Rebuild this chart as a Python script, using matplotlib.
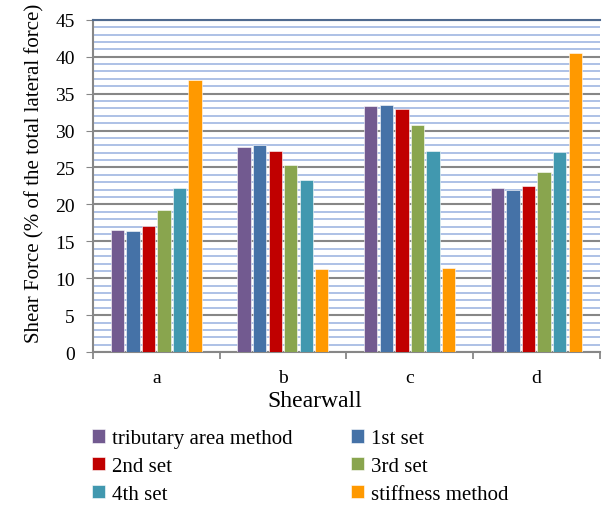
import numpy as np
import matplotlib.pyplot as plt
from matplotlib.ticker import MultipleLocator

plt.rcParams['font.family'] = ['Liberation Serif', 'DejaVu Serif']

walls = ['a', 'b', 'c', 'd']
series = ['tributary area method', '1st set', '2nd set', '3rd set', '4th set', 'stiffness method']
tributary = [16.6, 27.8, 33.3, 22.2]
set1 = [16.4, 28.0, 33.5, 22.0]
set2 = [17.1, 27.3, 32.9, 22.5]
set3 = [19.3, 25.4, 30.8, 24.4]
set4 = [22.2, 23.3, 27.3, 27.1]
stiffness = [36.8, 11.2, 11.4, 40.5]
colors = ['#725A90', '#4572A7', '#C00000', '#89A54E', '#4198AF', '#FF9900']

values = [tributary, set1, set2, set3, set4, stiffness]

fig = plt.figure(figsize=(6.07, 5.06), dpi=100)
ax = fig.add_axes([0.153, 0.302, 0.835, 0.657])

x = np.arange(len(walls))
slot = 0.1225
width = 0.105
bars = []
for i, (name, vals) in enumerate(zip(series, values)):
    b = ax.bar(x + (i - 2.5) * slot, vals, width, color=colors[i], label=name,
               edgecolor='white', linewidth=0.4, zorder=3)
    bars.append(b)

ax.set_ylim(0, 45)
ax.set_xlim(-0.5, 3.5)
ax.yaxis.set_major_locator(MultipleLocator(5))
ax.yaxis.set_minor_locator(MultipleLocator(1))
ax.grid(which='minor', axis='y', color='#A7BCE4', linewidth=1.3, zorder=0)
ax.grid(which='major', axis='y', color='#878787', linewidth=1.5, zorder=1)
ax.tick_params(axis='y', which='minor', length=0)
ax.tick_params(axis='y', which='major', length=5, color='#878787', labelsize=14, pad=8)

ax.set_xticks(x)
ax.set_xticklabels(walls, fontsize=14)
ax.set_xticks(np.arange(-0.5, 4, 1), minor=True)
ax.tick_params(axis='x', which='major', length=0, pad=12)
ax.tick_params(axis='x', which='minor', length=5, color='#878787', width=1.3)

ax.spines['right'].set_visible(False)
ax.spines['top'].set_color('#4F6A8F')
ax.spines['top'].set_linewidth(1.5)
for s in ['left', 'bottom']:
    ax.spines[s].set_color('#878787')
    ax.spines[s].set_linewidth(1.5)

ax.set_ylabel('Shear Force (% of the total lateral force)', fontsize=15)
ax.yaxis.set_label_coords(-0.096, 0.54)
ax.set_xlabel('Shearwall', fontsize=17)
ax.xaxis.set_label_coords(0.438, -0.115)

order = [0, 2, 4, 1, 3, 5]
fig.legend([bars[i] for i in order], [series[i] for i in order], ncol=2,
           loc='upper left', bbox_to_anchor=(0.135, 0.17), frameon=False,
           fontsize=15, handlelength=0.6, handleheight=0.6, handletextpad=0.35,
           columnspacing=2.8, labelspacing=0.42, borderpad=0)

fig.savefig('out.png', dpi=100)
